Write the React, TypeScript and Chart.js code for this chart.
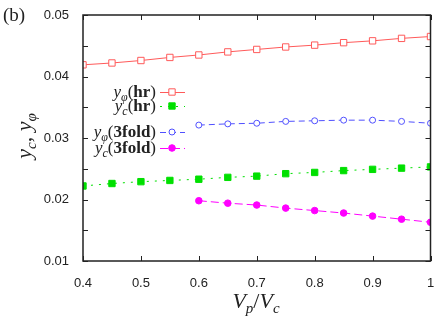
import React, { useEffect, useRef } from 'react';
import { Chart, registerables } from 'chart.js';

Chart.register(...registerables);

const xHr = [0.4, 0.45, 0.5, 0.55, 0.6, 0.65, 0.7, 0.75, 0.8, 0.85, 0.9, 0.95, 1.0];
const yPhiHr = [0.0419, 0.0422, 0.0426, 0.0431, 0.0435, 0.044, 0.0444, 0.0448, 0.0451, 0.0455, 0.0458, 0.0462, 0.0465];
const yCHr = [0.0222, 0.0226, 0.0229, 0.0231, 0.0233, 0.0236, 0.0238, 0.0242, 0.0244, 0.0247, 0.0249, 0.0251, 0.0253];
const x3fold = [0.6, 0.65, 0.7, 0.75, 0.8, 0.85, 0.9, 0.95, 1.0];
const yPhi3fold = [0.0321, 0.0323, 0.0324, 0.0327, 0.0328, 0.0329, 0.0329, 0.0327, 0.0324];
const yC3fold = [0.0198, 0.0194, 0.0191, 0.0186, 0.0182, 0.0178, 0.0173, 0.0168, 0.0163];

const xTickValues = [0.4, 0.5, 0.6, 0.7, 0.8, 0.9, 1.0];
const xTickLabels = ['0.4', '0.5', '0.6', '0.7', '0.8', '0.9', '1'];
const yTickLabels = ['0.01', '0.02', '0.03', '0.04', '0.05'];

const SERIF = '"Liberation Serif", "DejaVu Serif", serif';
const SANS = '"Liberation Sans", Arial, sans-serif';

type Seg = { t: string; font: string; dy?: number };

function drawRich(ctx: CanvasRenderingContext2D, segs: Seg[], x: number, y: number, align: 'left' | 'right' | 'center') {
  let w = 0;
  for (const s of segs) {
    ctx.font = s.font;
    w += ctx.measureText(s.t).width;
  }
  let cx = align === 'right' ? x - w : align === 'center' ? x - w / 2 : x;
  ctx.textAlign = 'left';
  ctx.textBaseline = 'alphabetic';
  for (const s of segs) {
    ctx.font = s.font;
    ctx.fillText(s.t, cx, y + (s.dy || 0));
    cx += ctx.measureText(s.t).width;
  }
}

const it = (px: number) => `italic ${px}px ${SERIF}`;
const rm = (px: number) => `${px}px ${SERIF}`;
const bd = (px: number) => `bold ${px}px ${SERIF}`;

type LegendItem = {
  segs: Seg[];
  y: number;
  color: string;
  dash: number[];
  point: 'rect' | 'circle';
  fill: string;
  r: number;
};

const legendItems: LegendItem[] = [
  { segs: [{ t: 'y', font: it(17) }, { t: 'φ', font: it(12), dy: 4 }, { t: '(', font: rm(17) }, { t: 'hr', font: bd(17) }, { t: ')', font: rm(17) }], y: 92, color: '#ff5a5a', dash: [], point: 'rect', fill: '#ffffff', r: 4.5 },
  { segs: [{ t: 'y', font: it(17) }, { t: 'c', font: it(12), dy: 4 }, { t: '(', font: rm(17) }, { t: 'hr', font: bd(17) }, { t: ')', font: rm(17) }], y: 106, color: '#00e000', dash: [2, 6], point: 'rect', fill: '#00e000', r: 4.5 },
  { segs: [{ t: 'y', font: it(17) }, { t: 'φ', font: it(12), dy: 4 }, { t: '(', font: rm(17) }, { t: '3fold', font: bd(17) }, { t: ')', font: rm(17) }], y: 132, color: '#5050ff', dash: [6, 4], point: 'circle', fill: '#ffffff', r: 3 },
  { segs: [{ t: 'y', font: it(17) }, { t: 'c', font: it(12), dy: 4 }, { t: '(', font: rm(17) }, { t: '3fold', font: bd(17) }, { t: ')', font: rm(17) }], y: 148, color: '#ff00ff', dash: [8, 4], point: 'circle', fill: '#ff00ff', r: 3.3 },
];

const decorPlugin = {
  id: 'decor',
  afterDraw(chart: any) {
    const { ctx, chartArea: a, scales } = chart;
    ctx.save();
    // frame
    ctx.strokeStyle = '#222';
    ctx.lineWidth = 1.5;
    ctx.setLineDash([]);
    ctx.strokeRect(a.left, a.top, a.right - a.left, a.bottom - a.top);
    // ticks inward
    ctx.lineWidth = 1;
    const tl = 5;
    ctx.beginPath();
    for (const t of scales.x.ticks) {
      const px = Math.round(scales.x.getPixelForValue(t.value)) + 0.5;
      ctx.moveTo(px, a.bottom);
      ctx.lineTo(px, a.bottom - tl);
      ctx.moveTo(px, a.top);
      ctx.lineTo(px, a.top + tl);
    }
    for (const t of scales.y.ticks) {
      const py = Math.round(scales.y.getPixelForValue(t.value)) + 0.5;
      ctx.moveTo(a.left, py);
      ctx.lineTo(a.left + tl, py);
      ctx.moveTo(a.right, py);
      ctx.lineTo(a.right - tl, py);
    }
    ctx.stroke();

    // legend
    ctx.fillStyle = '#222';
    for (const li of legendItems) {
      drawRich(ctx, li.segs, 156, li.y + 5, 'right');
      ctx.strokeStyle = li.color;
      ctx.lineWidth = 1;
      ctx.setLineDash(li.dash);
      ctx.beginPath();
      ctx.moveTo(160, li.y + 0.5);
      ctx.lineTo(185, li.y + 0.5);
      ctx.stroke();
      ctx.setLineDash([]);
      ctx.fillStyle = li.fill;
      ctx.beginPath();
      if (li.point === 'rect') {
        const s = li.r * Math.SQRT1_2;
        ctx.rect(172 - s, li.y - s, 2 * s, 2 * s);
      } else {
        ctx.arc(172, li.y, li.r, 0, Math.PI * 2);
      }
      ctx.fill();
      ctx.stroke();
      ctx.fillStyle = '#222';
    }

    // panel label
    ctx.fillStyle = '#222';
    ctx.font = rm(19);
    ctx.textAlign = 'left';
    ctx.fillText('(b)', 3, 21);

    // x title
    drawRich(ctx, [
      { t: 'V', font: it(22) },
      { t: 'p', font: it(15), dy: 5 },
      { t: '/', font: rm(22) },
      { t: 'V', font: it(22) },
      { t: 'c', font: it(15), dy: 5 },
    ], 256, 308, 'center');

    // y title
    ctx.save();
    ctx.translate(31, 136);
    ctx.rotate(-Math.PI / 2);
    drawRich(ctx, [
      { t: 'y', font: it(22) },
      { t: 'c', font: it(15), dy: 5 },
      { t: ', ', font: rm(22) },
      { t: 'y', font: it(22) },
      { t: 'φ', font: it(15), dy: 5 },
    ], 0, 0, 'center');
    ctx.restore();

    ctx.restore();
  },
};

export default function App() {
  const ref = useRef<HTMLCanvasElement | null>(null);
  useEffect(() => {
    document.body.style.margin = '0';
    const canvas = ref.current;
    if (!canvas) return;
    const chart = new Chart(canvas, {
      type: 'line',
      data: {
        datasets: [
          {
            label: 'yphi(hr)',
            data: xHr.map((x, i) => ({ x, y: yPhiHr[i] })),
            borderColor: '#ff5a5a',
            backgroundColor: '#ffffff',
            borderWidth: 1,
            pointStyle: 'rect',
            pointRadius: 4.5,
            pointBorderWidth: 1,
            pointBorderColor: '#ff5a5a',
            pointBackgroundColor: '#ffffff',
          },
          {
            label: 'yc(hr)',
            data: xHr.map((x, i) => ({ x, y: yCHr[i] })),
            borderColor: '#00e000',
            backgroundColor: '#00e000',
            borderWidth: 1,
            borderDash: [2, 6],
            pointStyle: 'rect',
            pointRadius: 4.5,
            pointBorderWidth: 1,
            pointBorderColor: '#00e000',
            pointBackgroundColor: '#00e000',
          },
          {
            label: 'yphi(3fold)',
            data: x3fold.map((x, i) => ({ x, y: yPhi3fold[i] })),
            borderColor: '#5050ff',
            backgroundColor: '#ffffff',
            borderWidth: 1,
            borderDash: [6, 4],
            pointStyle: 'circle',
            pointRadius: 3,
            pointBorderWidth: 1,
            pointBorderColor: '#5050ff',
            pointBackgroundColor: '#ffffff',
          },
          {
            label: 'yc(3fold)',
            data: x3fold.map((x, i) => ({ x, y: yC3fold[i] })),
            borderColor: '#ff00ff',
            backgroundColor: '#ff00ff',
            borderWidth: 1,
            borderDash: [8, 4],
            pointStyle: 'circle',
            pointRadius: 3.3,
            pointBorderWidth: 1,
            pointBorderColor: '#ff00ff',
            pointBackgroundColor: '#ff00ff',
          },
        ],
      },
      options: {
        responsive: false,
        animation: false,
        layout: { padding: { top: 15, right: 5, left: 0, bottom: 0 } },
        plugins: { legend: { display: false }, tooltip: { enabled: false } },
        scales: {
          x: {
            type: 'linear',
            min: 0.4,
            max: 1.0,
            afterBuildTicks: (scale: any) => {
              scale.ticks = xTickValues.map((v) => ({ value: v }));
            },
            afterFit: (scale: any) => {
              scale.height = 55;
              scale.paddingRight = 0;
              scale.paddingLeft = 0;
            },
            grid: { display: false },
            border: { display: false },
            ticks: {
              padding: 7,
              color: '#222',
              font: { family: SANS, size: 13 },
              maxRotation: 0,
              autoSkip: false,
              callback: (v: any) => {
                const i = xTickValues.findIndex((t) => Math.abs(t - Number(v)) < 1e-6);
                return i >= 0 ? xTickLabels[i] : '';
              },
            },
          },
          y: {
            type: 'linear',
            min: 0.01,
            max: 0.05,
            ticks: {
              stepSize: 0.005,
              padding: 6,
              color: '#222',
              font: { family: SANS, size: 13 },
              autoSkip: false,
              callback: (v: any) => {
                const n = Number(v);
                const k = Math.round(n * 100);
                if (Math.abs(n * 100 - k) < 1e-6 && k >= 1 && k <= 5) return yTickLabels[k - 1];
                return '';
              },
            },
            afterFit: (scale: any) => {
              scale.width = 83;
              scale.paddingTop = 0;
              scale.paddingBottom = 0;
            },
            grid: { display: false },
            border: { display: false },
          },
        },
      },
      plugins: [decorPlugin],
    } as any);
    return () => chart.destroy();
  }, []);
  return <canvas ref={ref} width={436} height={316} style={{ display: 'block' }} />;
}
